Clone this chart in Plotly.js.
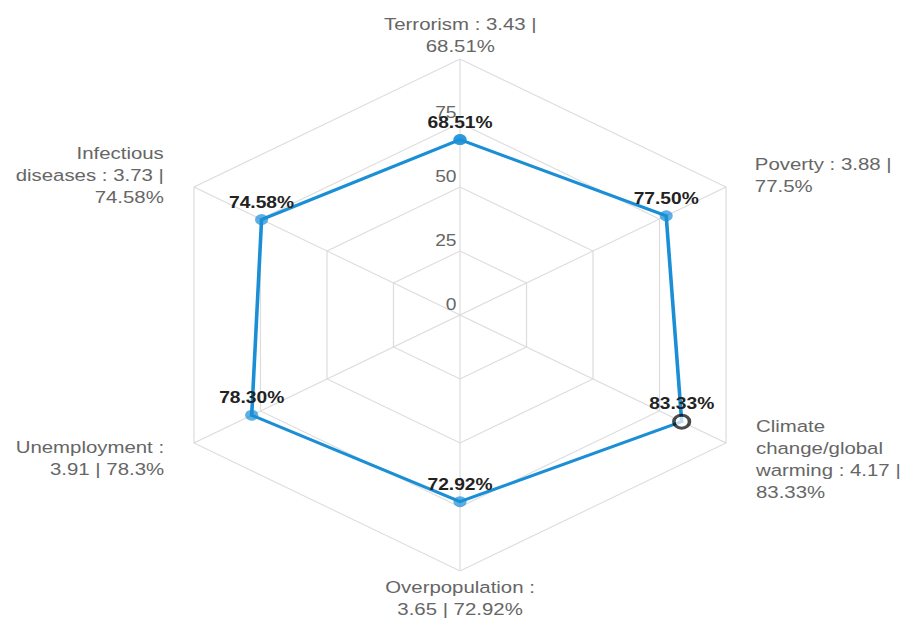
<!DOCTYPE html>
<html>
<head>
<meta charset="utf-8">
<script src="https://cdn.plot.ly/plotly-3.0.1.min.js"></script>
<style>
  html, body { margin: 0; padding: 0; background: #fff; overflow: hidden; }
  #chart { width: 752px; height: 619px; transform: scaleX(1.2); transform-origin: 0 0; }
</style>
</head>
<body>
<div id="chart"></div>
<script>
// ---- data ----
const categories = ['Terrorism', 'Poverty', 'Climate change/global warming', 'Overpopulation', 'Unemployment', 'Infectious diseases'];
const scores = [3.43, 3.88, 4.17, 3.65, 3.91, 3.73];
const percents = [68.51, 77.5, 83.33, 72.92, 78.3, 74.58];
const radialTicks = [0, 25, 50, 75];
const highlighted = 'Climate change/global warming';

// ---- helpers ----
const W = 752, H = 619, SX = 1.2;
function wrap(str, maxLen) {
  const words = str.split(' ');
  const lines = [];
  let cur = '';
  words.forEach(w => {
    if (cur === '') cur = w;
    else if ((cur + ' ' + w).length <= maxLen) cur += ' ' + w;
    else { lines.push(cur); cur = w; }
  });
  if (cur) lines.push(cur);
  return lines.join('<br>');
}
const fullLabels = categories.map((c, i) => wrap(c + ' : ' + scores[i] + ' | ' + String(percents[i]) + '%', 18));

const blue = '#1a8fd5';
const closedR = percents.concat([percents[0]]);
const closedT = categories.concat([categories[0]]);
const pointText = percents.map(p => p.toFixed(2) + '%').concat(['']);
const markerColors = closedT.map(c => c === highlighted ? '#ffffff' : blue);
const markerLineColors = closedT.map(c => c === highlighted ? '#000000' : blue);
const markerLineWidths = closedT.map(c => c === highlighted ? 3 : 0);
const markerSizes = closedT.map(c => c === highlighted ? 13 : 11);

const trace = {
  type: 'scatterpolar',
  r: closedR,
  theta: closedT,
  mode: 'lines+markers+text',
  text: pointText,
  textposition: 'top center',
  textfont: { family: 'Liberation Sans, Arial, sans-serif', size: 16, color: '#222', weight: 'bold' },
  line: { color: blue, width: 3 },
  marker: { color: markerColors, size: markerSizes, line: { color: markerLineColors, width: markerLineWidths } },
  cliponaxis: false,
  hoverinfo: 'skip',
  showlegend: false
};

// label placement (screen px of final image)
const labelPlace = [
  { x: 460, y: 35, xa: 'center' },
  { x: 752, y: 175, xa: 'left' },
  { x: 752, y: 459, xa: 'left' },
  { x: 460, y: 598, xa: 'center' },
  { x: 167, y: 458, xa: 'right' },
  { x: 167, y: 175, xa: 'right' }
];
const annotations = fullLabels.map((t, i) => ({
  xref: 'paper', yref: 'paper',
  x: labelPlace[i].x / SX / W,
  y: 1 - labelPlace[i].y / H,
  xanchor: labelPlace[i].xa, yanchor: 'middle',
  align: labelPlace[i].xa,
  text: t, showarrow: false,
  font: { family: 'Liberation Sans, Arial, sans-serif', size: 17, color: '#666' }
}));

const cx = 460 / SX, cy = 315, R = 256;
const layout = {
  width: W, height: H,
  margin: { l: 0, r: 0, t: 0, b: 0 },
  paper_bgcolor: '#fff',
  font: { family: 'Liberation Sans, Arial, sans-serif' },
  showlegend: false,
  polar: {
    domain: { x: [(cx - R) / W, (cx + R) / W], y: [1 - (cy + R) / H, 1 - (cy - R) / H] },
    gridshape: 'linear',
    bgcolor: '#fff',
    radialaxis: {
      range: [0, 100],
      tickvals: radialTicks,
      ticktext: radialTicks.map(v => String(v) + '<br> '),
      tickangle: 90,
      angle: 90,
      side: 'counterclockwise',
      showline: false,
      ticks: '',
      gridcolor: '#dcdcdc',
      gridwidth: 1,
      tickfont: { size: 16, color: '#666' },
      layer: 'below traces'
    },
    angularaxis: {
      direction: 'clockwise',
      rotation: 90,
      showticklabels: false,
      ticks: '',
      showline: true,
      linecolor: '#dcdcdc',
      linewidth: 1,
      gridcolor: '#dcdcdc',
      gridwidth: 1,
      layer: 'below traces'
    }
  },
  annotations: annotations
};

Plotly.newPlot('chart', [trace], layout, { displayModeBar: false, responsive: false });
</script>
</body>
</html>
